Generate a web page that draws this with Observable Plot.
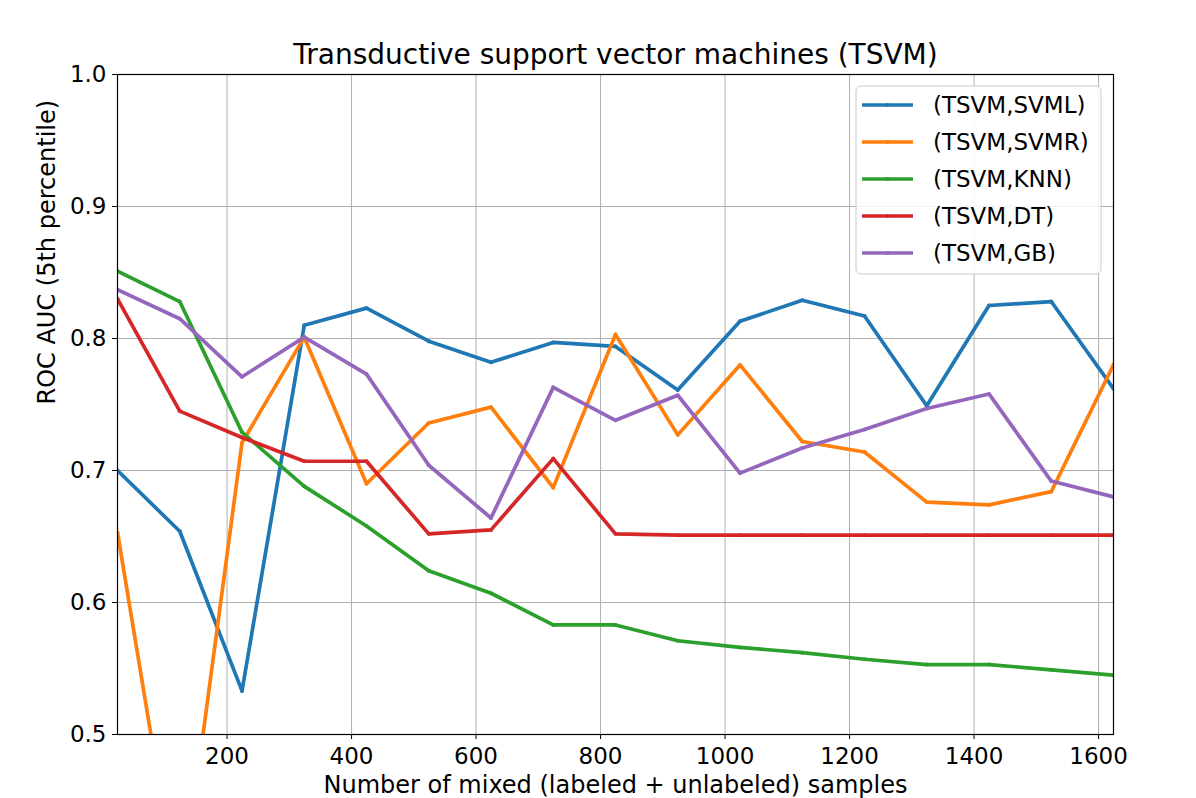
<!DOCTYPE html>
<html><head><meta charset="utf-8">
<script src="https://cdn.jsdelivr.net/npm/d3@7"></script>
<script src="https://cdn.jsdelivr.net/npm/@observablehq/plot@0.6"></script>
<style>body{margin:0;background:#fff;}</style>
</head><body><div id="chart"></div>
<script>
const samples = [24,124,224,324,424,524,624,724,824,924,1024,1124,1224,1324,1424,1524,1624];
const seriesNames = ["(TSVM,SVML)","(TSVM,SVMR)","(TSVM,KNN)","(TSVM,DT)","(TSVM,GB)"];
const seriesColors = ["#1f77b4","#ff7f0e","#2ca02c","#d62728","#9467bd"];
const svml = [0.700,0.654,0.533,0.810,0.823,0.798,0.782,0.797,0.794,0.761,0.813,0.829,0.817,0.749,0.825,0.828,0.762];
const svmr = [0.653,0.368,0.721,0.801,0.690,0.736,0.748,0.687,0.803,0.727,0.780,0.722,0.714,0.676,0.674,0.684,0.780];
const knn  = [0.851,0.828,0.729,0.688,0.658,0.624,0.607,0.583,0.583,0.571,0.566,0.562,0.557,0.553,0.553,0.549,0.545];
const dt   = [0.830,0.745,0.725,0.707,0.707,0.652,0.655,0.709,0.652,0.651,0.651,0.651,0.651,0.651,0.651,0.651,0.651];
const gb   = [0.837,0.815,0.771,0.801,0.773,0.704,0.664,0.763,0.738,0.757,0.698,0.717,0.731,0.747,0.758,0.692,0.680];
const xTicks = [200,400,600,800,1000,1200,1400,1600];
const yTicks = [0.5,0.6,0.7,0.8,0.9,1.0];
const titleText = "Transductive support vector machines (TSVM)";
const xLabel = "Number of mixed (labeled + unlabeled) samples";
const yLabel = "ROC AUC (5th percentile)";

const allValues = [svml, svmr, knn, dt, gb];
const rows = seriesNames.flatMap((name, k) => samples.map((x, i) => ({series: name, x, y: allValues[k][i]})));

const chart = Plot.plot({
  width: 1196, height: 798,
  marginLeft: 117, marginRight: 83, marginTop: 74, marginBottom: 64,
  style: {fontFamily: "DejaVu Sans", fontSize: "23px", background: "white", color: "black"},
  x: {domain: [24, 1624]},
  y: {domain: [0.5, 1.0]},
  color: {domain: seriesNames, range: seriesColors},
  marks: [
    Plot.gridX(xTicks, {stroke: "#b0b0b0", strokeOpacity: 1, strokeWidth: 1}),
    Plot.gridY(yTicks, {stroke: "#b0b0b0", strokeOpacity: 1, strokeWidth: 1}),
    Plot.line(rows, {x: "x", y: "y", stroke: "series", strokeWidth: 3.7, clip: true}),
    Plot.dot(rows, {x: "x", y: "y", fill: "series", r: 2, clip: true}),
    Plot.frame({stroke: "black", strokeWidth: 1.2}),
    Plot.axisX(xTicks, {tickSize: 5, tickPadding: 8.5, tickFormat: d => String(d), label: null, fontSize: 23}),
    Plot.axisY(yTicks, {tickSize: 5, tickPadding: 6, tickFormat: d3.format(".1f"), label: null, fontSize: 23}),
    Plot.text([titleText], {text: d => d, frameAnchor: "top", lineAnchor: "middle", dy: -19.5, fontSize: 28}),
    Plot.text([xLabel], {text: d => d, frameAnchor: "bottom", lineAnchor: "middle", dy: 50.5, fontSize: 24}),
    Plot.text([yLabel], {text: d => d, frameAnchor: "left", lineAnchor: "middle", dx: -70, rotate: -90, fontSize: 24})
  ]
});

const svg = d3.select(chart);
const lg = svg.append("g").attr("font-family", "DejaVu Sans").attr("font-size", 23).attr("text-anchor", "start");
lg.append("rect").attr("x", 856).attr("y", 86).attr("width", 245).attr("height", 188)
  .attr("rx", 5).attr("fill", "white").attr("fill-opacity", 0.85).attr("stroke", "#cccccc");
seriesNames.forEach((name, i) => {
  const yy = 105 + i * 37;
  lg.append("line").attr("x1", 862).attr("x2", 913).attr("y1", yy).attr("y2", yy)
    .attr("stroke", seriesColors[i]).attr("stroke-width", 3.7);
  lg.append("circle").attr("cx", 887.5).attr("cy", yy).attr("r", 2).attr("fill", seriesColors[i]);
  lg.append("text").attr("x", 933).attr("y", yy).attr("dy", "0.35em").attr("fill", "black")
    .attr("text-anchor", "start").text(name);
});

document.getElementById("chart").appendChild(chart);
</script>
</body></html>
